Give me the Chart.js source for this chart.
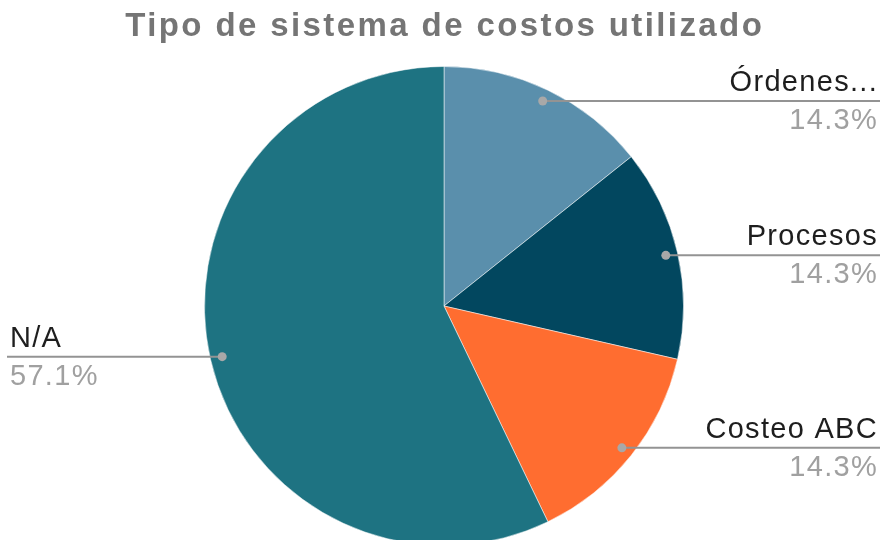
<!DOCTYPE html>
<html>
<head>
<meta charset="utf-8">
<script src="https://cdn.jsdelivr.net/npm/chart.js@4.4.1/dist/chart.umd.min.js"></script>
<style>
  html, body { margin: 0; padding: 0; background: #fff; overflow: hidden; }
  #wrap { position: relative; width: 885px; height: 556px; }
</style>
</head>
<body>
<div id="wrap"><canvas id="pie"></canvas></div>
<script>
const TITLE  = 'Tipo de sistema de costos utilizado';
const labels = ['Órdenes...', 'Procesos', 'Costeo ABC', 'N/A'];
const values = [1, 1, 1, 4];
const colors = ['#5a8fac', '#02475f', '#ff6d30', '#1e7382'];

const FONT = '"Liberation Sans", Arial, sans-serif';

// title drawn by hand so the letter spacing can match
const titlePlugin = {
  id: 'titleText',
  afterDraw(chart) {
    const ctx = chart.ctx;
    ctx.save();
    ctx.font = 'bold 33px ' + FONT;
    ctx.letterSpacing = '2.4px';
    ctx.fillStyle = '#757575';
    ctx.textAlign = 'left';
    ctx.textBaseline = 'alphabetic';
    const w = ctx.measureText(TITLE).width - 2.4;
    ctx.fillText(TITLE, 443.5 - w / 2, 36);
    ctx.restore();
  }
};

// leader lines with name above and percentage below
const leaderPlugin = {
  id: 'leaders',
  afterDatasetsDraw(chart) {
    const ctx = chart.ctx;
    const meta = chart.getDatasetMeta(0);
    const total = values.reduce((a, b) => a + b, 0);
    meta.data.forEach((arc, i) => {
      const p = arc.getProps(['x', 'y', 'startAngle', 'endAngle', 'outerRadius'], true);
      const mid = (p.startAngle + p.endAngle) / 2;
      const px = p.x + Math.cos(mid) * p.outerRadius * 0.95;
      const py = p.y + Math.sin(mid) * p.outerRadius * 0.95;
      const right = px >= p.x;
      const lineEnd = right ? chart.width - 5 : 7;
      const tx = right ? chart.width - 7 : 10;

      ctx.save();
      ctx.strokeStyle = '#939393';
      ctx.lineWidth = 2;
      ctx.beginPath();
      ctx.moveTo(px, py);
      ctx.lineTo(lineEnd, py);
      ctx.stroke();

      ctx.fillStyle = '#a8a8a8';
      ctx.beginPath();
      ctx.arc(px, py, 4.5, 0, Math.PI * 2);
      ctx.fill();

      ctx.font = '29px ' + FONT;
      ctx.letterSpacing = '1.3px';
      ctx.textBaseline = 'alphabetic';
      ctx.textAlign = right ? 'right' : 'left';
      ctx.fillStyle = '#1e1e1e';
      ctx.fillText(labels[i], tx, py - 10);
      ctx.fillStyle = '#a0a0a0';
      ctx.fillText((values[i] / total * 100).toFixed(1) + '%', tx, py + 28);
      ctx.restore();
    });
  }
};

new Chart(document.getElementById('pie'), {
  type: 'pie',
  data: {
    labels,
    datasets: [{
      data: values,
      backgroundColor: colors,
      borderColor: 'rgba(255,255,255,0.5)',
      borderWidth: 1
    }]
  },
  options: {
    responsive: true, maintainAspectRatio: false,
    animation: false,
    layout: { padding: { top: 66, left: 3, right: 0, bottom: 10 } },
    plugins: {
      legend: { display: false },
      tooltip: { enabled: false },
      title: { display: false }
    }
  },
  plugins: [titlePlugin, leaderPlugin]
});
</script>
</body>
</html>
